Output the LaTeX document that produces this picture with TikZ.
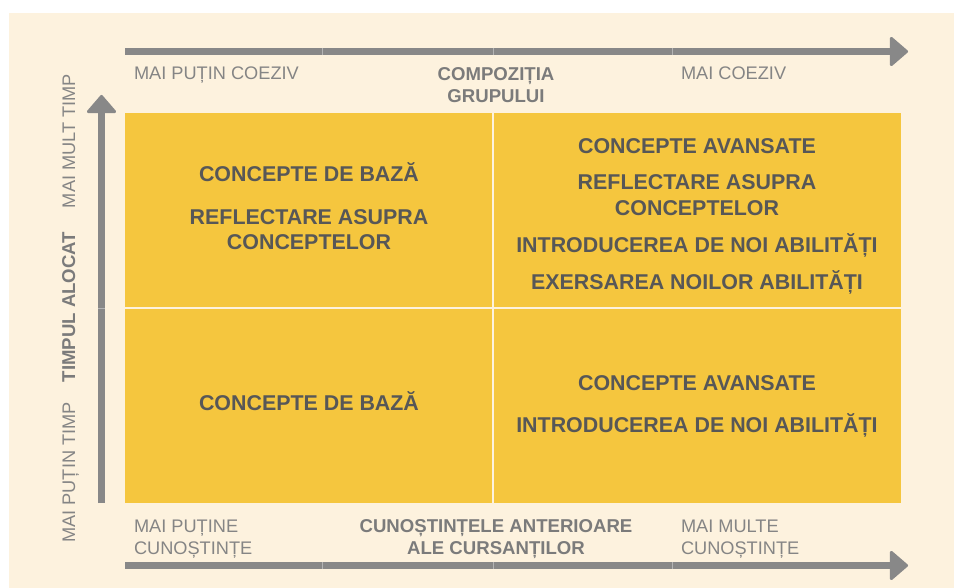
\documentclass[tikz,border=0pt]{standalone}
\usepackage{fontspec}
\setmainfont{Liberation Sans}
\usepackage{xcolor}
\usetikzlibrary{arrows.meta}
\definecolor{creambg}{HTML}{FDF2DE}
\definecolor{gridyellow}{HTML}{F5C63E}
\definecolor{axisgray}{HTML}{888888}
\definecolor{seamgray}{HTML}{B4B4B4}
\definecolor{labelgray}{HTML}{858585}
\definecolor{titlegray}{HTML}{7B7B7B}
\definecolor{textgray}{HTML}{575757}
\tikzset{
    tnode/.style = {inner sep=0pt, outer sep=0pt, anchor=base},
    qtext/.style = {tnode, text=textgray, font=\fontsize{21.4}{25}\selectfont\bfseries},
    axlabel/.style = {tnode, text=labelgray, font=\fontsize{18.2}{21}\selectfont},
    axtitle/.style = {tnode, text=titlegray, font=\fontsize{18.6}{22}\selectfont\bfseries},
    axis_arrow/.style = {axisgray, line width=7pt,
        -{Triangle[length=19pt, width=32pt, line width=3pt, round]}},
    seam/.style = {seamgray, line width=0.8pt},
    divider/.style = {creambg, line width=2.5pt}
}

\begin{document}
\begin{tikzpicture}
            [x=1pt, y=-1pt]

            % background
            \fill[white] (0,0) rectangle (954,588);
            \fill[creambg] (9,13) rectangle (954,588);
            \useasboundingbox (0,0) rectangle (954,588);

            % quadrants
            \fill[gridyellow] (125,113) rectangle (901,503);
            \draw[divider] (493,113) -- (493,503);
            \draw[divider] (125,308) -- (901,308);

            % axes
            \coordinate (top_start) at (125,51.5);
            \coordinate (top_end) at (908,51.5);
            \coordinate (bot_start) at (125,565.5);
            \coordinate (bot_end) at (908,565.5);
            \coordinate (left_start) at (101.5,503);
            \coordinate (left_end) at (101.5,95);
            \draw[axis_arrow] (top_start) -- (top_end);
            \draw[axis_arrow] (bot_start) -- (bot_end);
            \draw[axis_arrow] (left_start) -- (left_end);
            \foreach \sx in {322, 493, 672} {
                \draw[seam] (\sx,48) -- (\sx,55);
                \draw[seam] (\sx,562) -- (\sx,569);
            }
            \draw[seam] (98,308) -- (105,308);

            % top axis labels
            \node (less_coh) [axlabel, anchor=base west] at (134,80) {MAI PUȚIN COEZIV};
            \node (group_a) [axtitle] at (496,80.5) {COMPOZIȚIA};
            \node (group_b) [axtitle] at (496,103) {GRUPULUI};
            \node (more_coh) [axlabel, anchor=base west] at (681,80) {MAI COEZIV};

            % bottom axis labels
            \node (less_kn_a) [axlabel, anchor=base west] at (134,532.5) {MAI PUȚINE};
            \node (less_kn_b) [axlabel, anchor=base west] at (134,554) {CUNOȘTINȚE};
            \node (prior_a) [axtitle] at (496,532.5) {CUNOȘTINȚELE ANTERIOARE};
            \node (prior_b) [axtitle] at (496,554) {ALE CURSANȚILOR};
            \node (more_kn_a) [axlabel, anchor=base west] at (681,532.5) {MAI MULTE};
            \node (more_kn_b) [axlabel, anchor=base west] at (681,554) {CUNOȘTINȚE};

            % left axis labels
            \node (less_time) [axlabel, rotate=90] at (75,472.5) {MAI PUȚIN TIMP};
            \node (time) [axtitle, rotate=90] at (75,307) {TIMPUL ALOCAT};
            \node (more_time) [axlabel, rotate=90] at (75,141) {MAI MULT TIMP};

            % top left
            \node (tl_a) [qtext] at (309,182) {CONCEPTE DE BAZĂ};
            \node (tl_b) [qtext] at (309,225) {REFLECTARE ASUPRA};
            \node (tl_c) [qtext] at (309,249.5) {CONCEPTELOR};

            % top right
            \node (tr_a) [qtext] at (697,153.5) {CONCEPTE AVANSATE};
            \node (tr_b) [qtext] at (697,190) {REFLECTARE ASUPRA};
            \node (tr_c) [qtext] at (697,216) {CONCEPTELOR};
            \node (tr_d) [qtext] at (697,253) {INTRODUCEREA DE NOI ABILITĂȚI};
            \node (tr_e) [qtext] at (697,290) {EXERSAREA NOILOR ABILITĂȚI};

            % bottom left
            \node (bl_a) [qtext] at (309,410.5) {CONCEPTE DE BAZĂ};

            % bottom right
            \node (br_a) [qtext] at (697,390) {CONCEPTE AVANSATE};
            \node (br_b) [qtext] at (697,432) {INTRODUCEREA DE NOI ABILITĂȚI};
\end{tikzpicture}
\end{document}
